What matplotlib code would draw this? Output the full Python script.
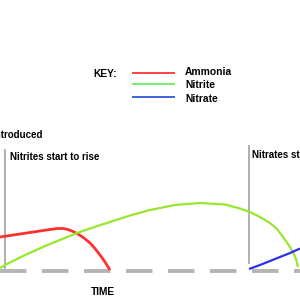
import matplotlib
matplotlib.use("Agg")
import matplotlib.pyplot as plt

# Data: x = time (arbitrary units), y = level above baseline
ammonia_x = [0, 10, 20, 30, 40, 50, 57, 63, 68, 73, 78, 84, 90, 95, 100, 105, 110]
ammonia_y = [34, 35.5, 37, 38.5, 40, 41.5, 42.5, 42.5, 41.5, 39.5, 37, 33, 28, 22.5, 16, 9, 1]

nitrite_x = [0, 8, 15, 24, 33, 44, 55, 66, 77, 93, 110, 130, 150, 175, 200, 225, 240, 250, 260, 270, 277, 283, 288, 293, 296, 298]
nitrite_y = [3, 7.5, 11, 15.5, 19.5, 24.5, 29, 33.5, 38, 43.5, 49, 55.5, 61, 66, 68, 66.5, 62.5, 59, 54, 48, 42, 34, 27, 19, 12, 4]

nitrate_x = [249, 260, 270, 280, 290, 300]
nitrate_y = [2, 6, 10, 14, 18, 22.5]

series_names = ["Ammonia", "Nitrite", "Nitrate"]
events = ["Ammonia introduced", "Nitrites start to rise", "Nitrates start to rise"]
event_x = [5, 249]

plt.rcParams['font.family'] = ['Liberation Sans', 'DejaVu Sans']

fig = plt.figure(figsize=(3, 3), dpi=100)
ax = fig.add_axes([0, 0, 1, 1])
ax.set_xlim(0, 300)
ax.set_ylim(-29, 271)
ax.axis('off')

red = '#ff3030'
green = '#99e62e'
blue = '#2e2ef0'
gray = '#a8a8a8'

# baseline
ax.plot([0, 300], [0, 0], color='#b4b4b4', lw=2.8, dashes=(6.8, 4), dash_capstyle='butt', solid_capstyle='butt')

# event lines
ax.plot([event_x[0], event_x[0]], [3, 121], color=gray, lw=1.3)
ax.plot([event_x[1], event_x[1]], [8, 125], color=gray, lw=1.3)

ax.plot(ammonia_x, ammonia_y, color=red, lw=2.0, solid_capstyle='butt')
ax.plot(nitrite_x, nitrite_y, color=green, lw=1.6, solid_capstyle='butt')
ax.plot(nitrate_x, nitrate_y, color=blue, lw=1.6, solid_capstyle='butt')

fs = 7.0
ax.text(42, 136, events[0], ha='right', va='center', fontsize=fs, fontweight='bold')
ax.text(10, 114, events[1], ha='left', va='center', fontsize=fs, fontweight='bold')
ax.text(252, 116, events[2], ha='left', va='center', fontsize=fs, fontweight='bold')

# key
ax.text(93, 197, "KEY:", ha='left', va='center', fontsize=fs + 0.4, fontweight='bold')
key_cols = ['#ff4040', '#70f070', '#4060e0']
key_y = [198, 187, 174]
lab_y = [199, 186, 172]
for name, c, ky, ly in zip(series_names, key_cols, key_y, lab_y):
    ax.plot([133, 174], [ky, ky], color=c, lw=1.4)
    ax.text(185, ly, name, ha='left', va='center', fontsize=fs + 0.4, fontweight='bold')

ax.text(103, -21, "TIME", ha='center', va='center', fontsize=fs + 0.4, fontweight='bold')

fig.savefig("out.png", dpi=100)
